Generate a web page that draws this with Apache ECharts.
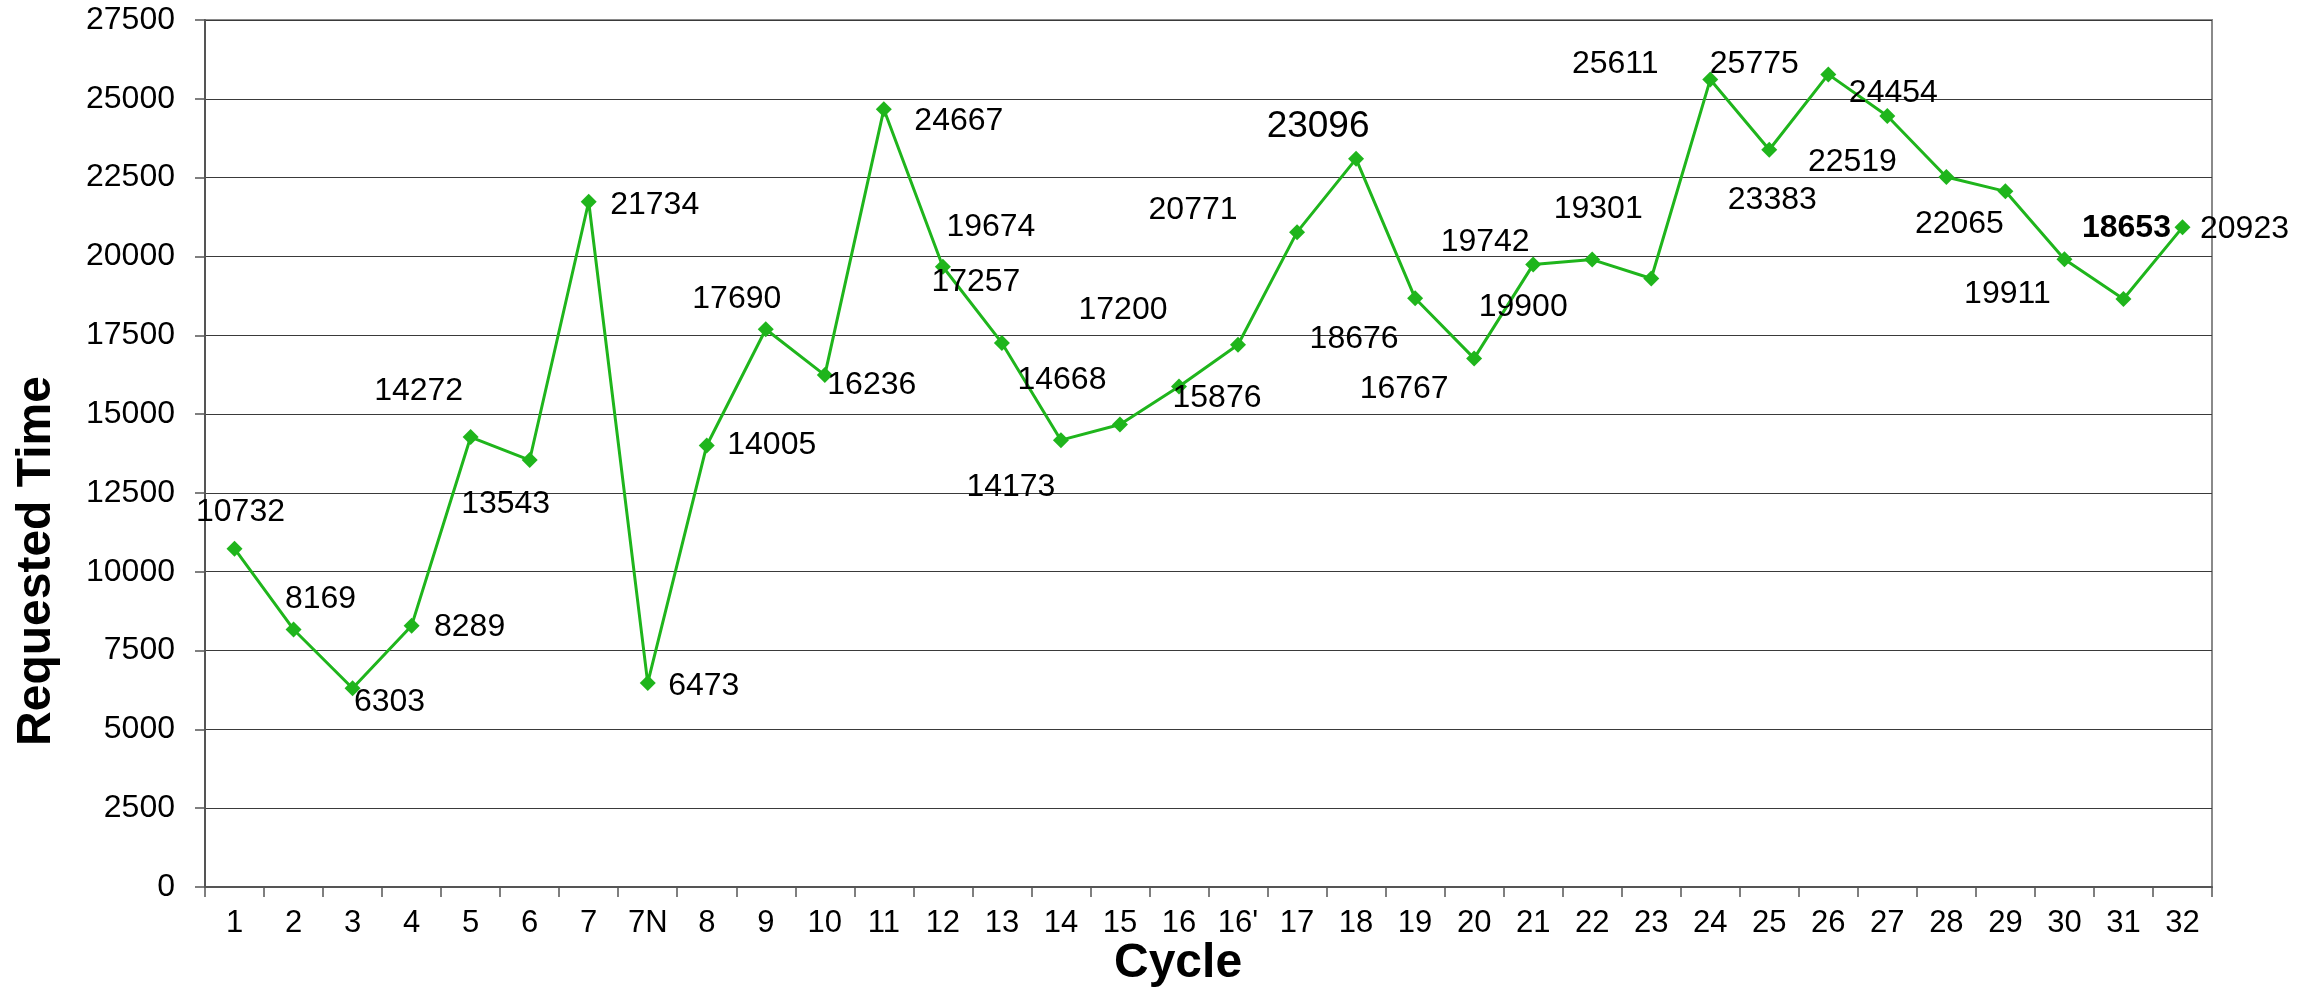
<!DOCTYPE html>
<html>
<head>
<meta charset="utf-8">
<script src="https://cdn.jsdelivr.net/npm/echarts@6/dist/echarts.min.js"></script>
<style>
html,body{margin:0;padding:0;background:#fff;}
#chart{width:2320px;height:993px;}
</style>
</head>
<body>
<div id="chart"></div>
<script>
// ---- data ----
const categories = ['1','2','3','4','5','6','7','7N','8','9','10','11','12','13','14','15','16',"16'",'17','18','19','20','21','22','23','24','25','26','27','28','29','30','31','32'];
const requestedTime = [10732,8169,6303,8289,14272,13543,21734,6473,14005,17690,16236,24667,19674,17257,14173,14668,15876,17200,20771,23096,18676,16767,19742,19900,19301,25611,23383,25775,24454,22519,22065,19911,18653,20923];
const yTicks = {min:0, max:27500, interval:2500};

// ---- label layout (offset of each value label from its point, px) ----
const labelOffsets = [
  [6,-38],[27,-32],[37,12],[58,0],[-52,-48],[-24,42],[66,1],[56,1],[65,-2],[-29,-32],
  [47,8],[75,10],[48,-42],[-26,-63],[-50,45],[-58,-46],[38,10],[-115,-37],[-104,-24],[-38,-34],
  [-61,39],[-70,29],[-48,-24],[-69,46],[-53,-71],[-95,-17],[3,48],[-74,-12],[6,-25],[-94,-17],
  [-46,31],[-57,33],[3,-73],[62,0]
];
const labelShiftY = 2;
const bigLabelIndex = 19;   // "23096" drawn larger
const boldLabelIndex = 32;  // "18653" drawn bold

const FONT = '"Liberation Sans", Arial, sans-serif';

const seriesData = requestedTime.map((v, i) => {
  const lbl = {};
  if (i === bigLabelIndex) lbl.fontSize = 37;
  if (i === boldLabelIndex) lbl.fontWeight = 'bold';
  return {value: v, label: lbl};
});

const chart = echarts.init(document.getElementById('chart'), null, {renderer:'canvas'});
chart.setOption({
  animation: false,
  backgroundColor: '#ffffff',
  grid: {left: 205, right: 108, top: 20, bottom: 106, show: true, borderColor: '#8a8a8a', borderWidth: 2, backgroundColor: 'transparent'},
  xAxis: {
    type: 'category',
    data: categories,
    boundaryGap: true,
    axisLine: {show: true, lineStyle: {color: '#555', width: 2}},
    axisTick: {show: true, length: 10, alignWithLabel: false, lineStyle: {color: '#555', width: 1.5}},
    axisLabel: {color: '#000', fontSize: 31, fontFamily: FONT, margin: 21, interval: 0},
    splitLine: {show: false}
  },
  yAxis: {
    type: 'value',
    min: yTicks.min, max: yTicks.max, interval: yTicks.interval,
    axisLine: {show: true, lineStyle: {color: '#555', width: 2}},
    axisTick: {show: true, length: 10, lineStyle: {color: '#555', width: 1.5}},
    axisLabel: {color: '#000', fontSize: 32, fontFamily: FONT, margin: 30, formatter: v => String(v)},
    splitLine: {show: true, lineStyle: {color: '#3a3a3a', width: 1.2}}
  },
  graphic: [
    {type: 'text', left: 1114, top: 940, style: {text: 'Cycle', font: 'bold 48px ' + FONT, fill: '#000'}},
    {type: 'text', x: 37, y: 561, rotation: Math.PI/2,
     style: {text: 'Requested Time', font: 'bold 48px ' + FONT, fill: '#000', align: 'center', verticalAlign: 'middle'}}
  ],
  series: [{
    type: 'line',
    data: seriesData,
    symbol: 'diamond',
    symbolSize: 16,
    itemStyle: {color: '#1fb51c'},
    lineStyle: {color: '#1fb51c', width: 3},
    label: {show: true, position: 'inside', color: '#000', fontSize: 32, fontFamily: FONT, align: 'center', verticalAlign: 'middle', formatter: p => String(p.value)},
    labelLayout: function (params) {
      const o = labelOffsets[params.dataIndex];
      return {dx: o[0], dy: o[1] + labelShiftY, hideOverlap: false};
    },
    z: 3
  }]
});
</script>
</body>
</html>
